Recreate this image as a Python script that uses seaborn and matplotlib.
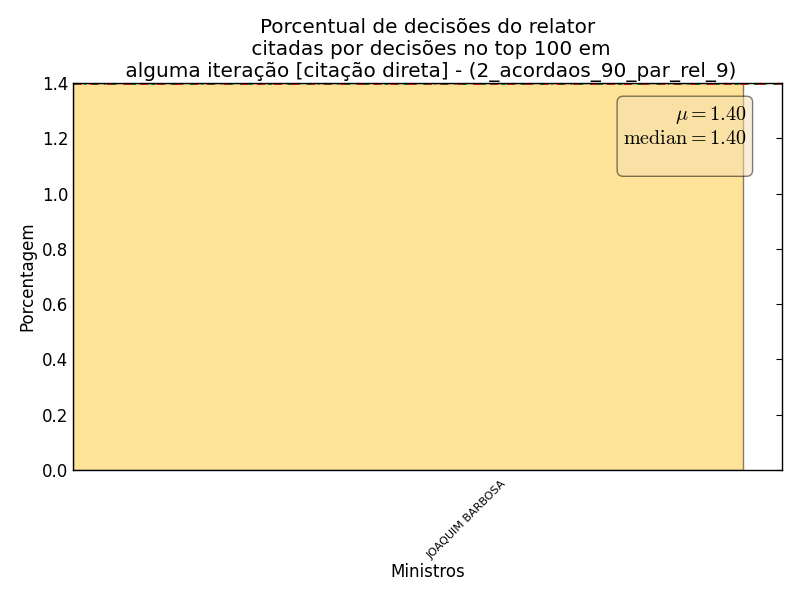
import numpy as np
import pandas as pd
import matplotlib
matplotlib.use('Agg')
import matplotlib.pyplot as plt
import seaborn as sns

# data
ministros = ['JOAQUIM BARBOSA']
porcentagens = [1.40]
media = 1.40
mediana = 1.40

sns.set_style('ticks')
plt.rcParams['font.family'] = ['DejaVu Sans']
plt.rcParams['mathtext.fontset'] = 'cm'
plt.rcParams['text.color'] = 'black'
plt.rcParams['axes.labelcolor'] = 'black'
plt.rcParams['xtick.color'] = 'black'
plt.rcParams['ytick.color'] = 'black'
plt.rcParams['lines.scale_dashes'] = False
plt.rcParams['lines.dashed_pattern'] = [6, 6]
plt.rcParams['lines.dashdot_pattern'] = [3, 5, 1, 5]

df = pd.DataFrame({'Ministro': ministros, 'Porcentagem': porcentagens})

fig, ax = plt.subplots(figsize=(8, 6), dpi=100)
fig.subplots_adjust(left=0.09125, right=0.9775, top=0.8617, bottom=0.2167)

sns.barplot(data=df, x='Ministro', y='Porcentagem', color='#fee398',
            saturation=1, edgecolor='#8a7d55', linewidth=1, width=0.8, ax=ax)

# mean / median lines
ax.axhline(media, color='red', linestyle='--', linewidth=2)
ax.axhline(mediana, color='green', linestyle='-.', linewidth=2)

# bar starts at the left spine, tick off-center like the original
ax.set_xlim(-0.4, 0.4466)
ax.set_xticks([0.1194])
ax.set_xticklabels(ministros, rotation=45, ha='right', fontsize=8)
ax.set_ylim(0, 1.4)
ax.set_yticks(np.arange(0, 1.41, 0.2))
ax.set_yticklabels([f'{v:.1f}' for v in np.arange(0, 1.41, 0.2)], fontsize=12)

ax.tick_params(direction='in', top=True, right=True, length=4, width=0.8)
ax.tick_params(axis='x', pad=6)
ax.tick_params(axis='y', pad=3.5)
for s in ax.spines.values():
    s.set_visible(True)
    s.set_linewidth(1)
    s.set_color('black')

ax.set_xlabel('Ministros', fontsize=12, labelpad=2)
ax.set_ylabel('Porcentagem', fontsize=12)
ax.set_title('Porcentual de decisões do relator\n citadas por decisões no top 100 em\n'
             ' alguma iteração [citação direta] - (2_acordaos_90_par_rel_9)',
             fontsize=14.4, pad=4)

textstr = '$\\mu=%.2f$\n$\\mathrm{median}=%.2f$\n' % (media, mediana)
ax.text(0.95, 0.945, textstr, transform=ax.transAxes, fontsize=14.5,
        va='top', ha='right', multialignment='right',
        bbox=dict(boxstyle='round', facecolor='wheat', edgecolor='black', alpha=0.5))

fig.savefig('out.png', dpi=100)
